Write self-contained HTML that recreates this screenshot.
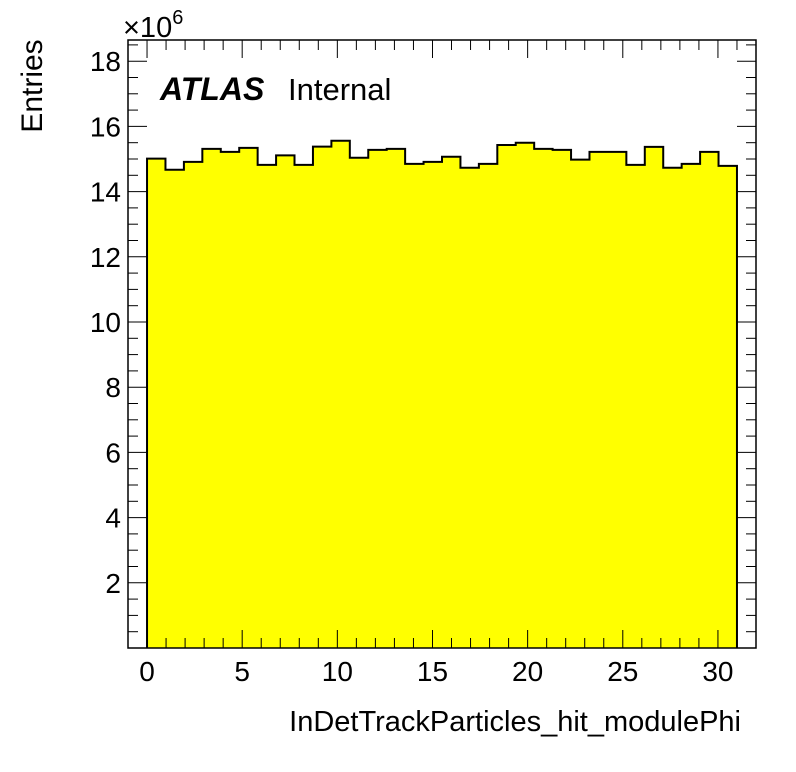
<!DOCTYPE html>
<html><head><meta charset="utf-8"><style>
html,body{margin:0;padding:0;background:#fff}
svg{display:block;font-family:"Liberation Sans",Arial,sans-serif}
</style></head><body>
<svg id="chart" width="796" height="772" viewBox="0 0 796 772" xmlns="http://www.w3.org/2000/svg">
<rect x="0" y="0" width="796" height="772" fill="#fff"/>
<g id="hist"></g>
<g id="axes"></g>
<text x="123" y="37" style="font-size:29px">×10<tspan style="font-size:20px" dy="-13">6</tspan></text>
<text x="160" y="100" style="font-size:32px;font-weight:bold;font-style:italic">ATLAS</text>
<text x="288" y="100" style="font-size:31px">Internal</text>
<text transform="translate(42,86) rotate(-90)" text-anchor="middle" style="font-size:30px">Entries</text>
<text x="741" y="731" text-anchor="end" style="font-size:29px">InDetTrackParticles_hit_modulePhi</text>
</svg>
<script>
const binValues = [15.01,14.67,14.91,15.31,15.22,15.34,14.82,15.11,14.82,15.38,15.56,15.04,15.28,15.31,14.85,14.91,15.07,14.73,14.85,15.43,15.50,15.31,15.28,14.98,15.22,15.22,14.82,15.37,14.73,14.85,15.22,14.79];
const histMin = 0;
const histMax = 31;
const xTickLabels = [0,5,10,15,20,25,30];
const yTickLabels = [2,4,6,8,10,12,14,16,18];

const NS='http://www.w3.org/2000/svg';
const L=128,R=756,T=40,B=648;
const xMin=-1,xMax=32,yMin=0,yMax=18.65;
const sx=v=>L+(v-xMin)/(xMax-xMin)*(R-L);
const sy=v=>B-(v-yMin)/(yMax-yMin)*(B-T);
function mk(tag,attrs,parent){const e=document.createElementNS(NS,tag);for(const k in attrs)e.setAttribute(k,attrs[k]);parent.appendChild(e);return e;}
const hist=document.getElementById('hist'),axes=document.getElementById('axes');
const bw=(histMax-histMin)/binValues.length;
let d='M'+sx(histMin)+' '+sy(0);
binValues.forEach((v,i)=>{
  const x0=sx(histMin+i*bw),x1=sx(histMin+(i+1)*bw);
  const r=mk('rect',{x:x0,y:sy(v),width:x1-x0+0.5,height:sy(0)-sy(v),fill:'#ffff00'},hist);
  
  
  d+=' L'+x0+' '+sy(v)+' L'+x1+' '+sy(v);
});
d+=' L'+sx(histMax)+' '+sy(0);
const outline=mk('path',{d:d,fill:'none',stroke:'#000','stroke-width':2},hist);


const frame=mk('rect',{x:L,y:T,width:R-L,height:B-T,fill:'none',stroke:'#000','stroke-width':1.5},axes);


for(let v=-1;v<=32;v++){
  const x=sx(v),len=(v%5===0)?18:10;
  mk('line',{x1:x,y1:B,x2:x,y2:B-len,stroke:'#000','stroke-width':1},axes);
  mk('line',{x1:x,y1:T,x2:x,y2:T+len,stroke:'#000','stroke-width':1},axes);
}
xTickLabels.forEach(v=>{
  const t=mk('text',{x:sx(v),y:681,'text-anchor':'middle',style:'font-size:28px'},axes);
  t.textContent=v;
  
  
});
for(let k=1;k<=37;k++){
  const v=k*0.5;if(v>yMax)break;
  const y=sy(v),len=(k%4===0)?19:10;
  mk('line',{x1:L,y1:y,x2:L+len,y2:y,stroke:'#000','stroke-width':1},axes);
  mk('line',{x1:R,y1:y,x2:R-len,y2:y,stroke:'#000','stroke-width':1},axes);
}
yTickLabels.forEach(v=>{
  const t=mk('text',{x:121,y:sy(v)+10,'text-anchor':'end',style:'font-size:28px'},axes);
  t.textContent=v;
  
  
});
</script>
</body></html>
